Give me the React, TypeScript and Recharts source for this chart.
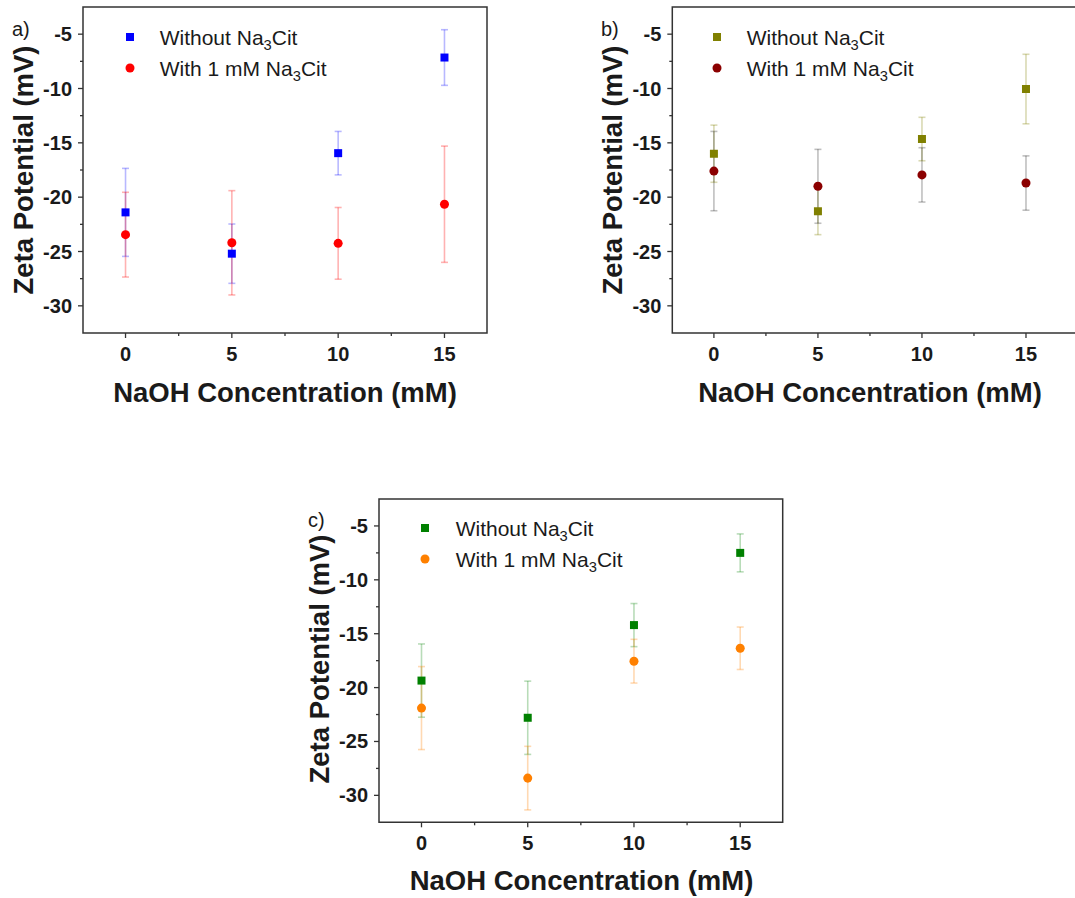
import React from 'react';
import { ScatterChart, Scatter, XAxis, YAxis, ZAxis, ErrorBar, ReferenceArea, Legend } from 'recharts';

// ---------- data ----------
const naohConcentration = [0, 5, 10, 15];
const xMajorTicks = [0, 5, 10, 15];
const xMinorTicks = [2.5, 7.5, 12.5];
const yMajorTicks = [-30, -25, -20, -15, -10, -5];
const yMinorTicks = [-27.5, -22.5, -17.5, -12.5, -7.5];

const aWithoutZeta = [-21.4, -25.2, -15.95, -7.15];
const aWithoutErr = [4.05, 2.73, 2.0, 2.56];
const aWithZeta = [-23.45, -24.2, -24.25, -20.65];
const aWithErr = [3.9, 4.8, 3.3, 5.35];

const bWithoutZeta = [-16.0, -21.3, -14.65, -10.05];
const bWithoutErr = [2.63, 2.15, 2.0, 3.2];
const bWithZeta = [-17.6, -19.0, -17.95, -18.7];
const bWithErr = [3.65, 3.4, 2.5, 2.5];

const cWithoutZeta = [-19.35, -22.8, -14.2, -7.5];
const cWithoutErr = [3.4, 3.4, 2.0, 1.76];
const cWithZeta = [-21.9, -28.4, -17.55, -16.35];
const cWithErr = [3.85, 2.95, 2.03, 1.97];

const seriesPrefixes = ['Without', 'With 1 mM'];
const seriesNames = seriesPrefixes.map((p) => `${p} Na3Cit`);
const panelLetters = ['a)', 'b)', 'c)'];
const xTitle = 'NaOH Concentration (mM)';
const yTitle = 'Zeta Potential (mV)';

// ---------- styling ----------
const FONT = "'Liberation Sans', Arial, Helvetica, sans-serif";
const AXIS_COLOR = '#333';
const TEXT_COLOR = '#1a1a1a';
const yDomain = [-32.5, -2.5];

const build = (zeta: number[], err: number[]) =>
  naohConcentration.map((x, i) => ({ x, y: zeta[i], err: err[i] }));

const panels = [
  {
    left: 0, top: 0, width: 500, height: 420,
    margin: { top: 7, left: 23, right: 13, bottom: 57 },
    xDomain: [-2, 17],
    legend: { left: 124.7, top: 21.8, textLeft: 35 },
    series: [
      { data: build(aWithoutZeta, aWithoutErr), color: '#0000ff', errColor: '#0000ff', errOpacity: 0.28, shape: 'square' },
      { data: build(aWithZeta, aWithErr), color: '#ff0000', errColor: '#ff0000', errOpacity: 0.3, shape: 'circle' },
    ],
  },
  {
    left: 540, top: 0, width: 545, height: 420,
    margin: { top: 7, left: 72.3, right: 7, bottom: 57 },
    xDomain: [-2, 17.5],
    legend: { left: 172.3, top: 21.8, textLeft: 34.4 },
    series: [
      { data: build(bWithoutZeta, bWithoutErr), color: '#808000', errColor: '#808000', errOpacity: 0.3, shape: 'square' },
      { data: build(bWithZeta, bWithErr), color: '#8b0000', errColor: '#000000', errOpacity: 0.25, shape: 'circle' },
    ],
  },
  {
    left: 290, top: 480, width: 500, height: 420,
    margin: { top: 19, left: 29, right: 7.3, bottom: 47.7 },
    xDomain: [-2, 17],
    legend: { left: 130.3, top: 32.5, textLeft: 35.4 },
    series: [
      { data: build(cWithoutZeta, cWithoutErr), color: '#008000', errColor: '#008000', errOpacity: 0.28, shape: 'square' },
      { data: build(cWithZeta, cWithErr), color: '#ff8000', errColor: '#ff8000', errOpacity: 0.3, shape: 'circle' },
    ],
  },
];

// title placements (page coords)
const titlePlacements = [
  { letter: { x: 12, y: 36 }, yTitle: { x: 33, y: 170 }, xTitle: { x: 285, y: 402 } },
  { letter: { x: 601, y: 36 }, yTitle: { x: 622, y: 170 }, xTitle: { x: 870, y: 402 } },
  { letter: { x: 308, y: 527 }, yTitle: { x: 329, y: 659 }, xTitle: { x: 581.5, y: 890 } },
];

const YTick = (props: any) => {
  const { x, y, payload } = props;
  const major = yMajorTicks.includes(payload.value);
  const len = major ? 5 : 3;
  return (
    <g>
      <line x1={x - len} y1={y} x2={x} y2={y} stroke={AXIS_COLOR} strokeWidth={1.3} />
      {major && (
        <text x={x - 11} y={y + 7} textAnchor="end" fontFamily={FONT} fontWeight="bold" fontSize={20} fill={TEXT_COLOR}>
          {payload.value}
        </text>
      )}
    </g>
  );
};

const XTick = (props: any) => {
  const { x, y, payload } = props;
  const major = xMajorTicks.includes(payload.value);
  const len = major ? 5 : 3;
  return (
    <g>
      <line x1={x} y1={y} x2={x} y2={y + len} stroke={AXIS_COLOR} strokeWidth={1.3} />
      {major && (
        <text x={x} y={y + 28} textAnchor="middle" fontFamily={FONT} fontWeight="bold" fontSize={20} fill={TEXT_COLOR}>
          {payload.value}
        </text>
      )}
    </g>
  );
};

const makeLegend = (textLeft: number) => (props: any) => {
  const payload = [...(props.payload || [])].sort(
    (p: any, q: any) => seriesNames.indexOf(p.value) - seriesNames.indexOf(q.value)
  );
  return (
    <div style={{ fontFamily: FONT, fontSize: 21, color: TEXT_COLOR }}>
      {payload.map((entry: any) => {
        const idx = seriesNames.indexOf(entry.value);
        return (
          <div key={entry.value} style={{ position: 'relative', height: 31, width: 300, whiteSpace: 'nowrap' }}>
            <svg width={10} height={10} style={{ position: 'absolute', left: 0, top: 10.5 }}>
              {entry.type === 'square' ? (
                <rect x={1} y={1} width={8} height={8} fill={entry.color} />
              ) : (
                <circle cx={5} cy={5} r={4.5} fill={entry.color} />
              )}
            </svg>
            <span style={{ position: 'absolute', left: textLeft, top: 0, lineHeight: '31px' }}>
              {seriesPrefixes[idx]} Na
              <span style={{ fontSize: '0.7em', position: 'relative', top: '0.38em' }}>3</span>
              Cit
            </span>
          </div>
        );
      })}
    </div>
  );
};

const Panel = ({ cfg }: { cfg: any }) => (
  <div style={{ position: 'absolute', left: cfg.left, top: cfg.top }}>
    <ScatterChart width={cfg.width} height={cfg.height} margin={cfg.margin}>
      <ReferenceArea
        x1={cfg.xDomain[0]} x2={cfg.xDomain[1]} y1={yDomain[0]} y2={yDomain[1]}
        fill="none" stroke={AXIS_COLOR} strokeWidth={1.5} fillOpacity={0} ifOverflow="visible"
      />
      <XAxis
        type="number" dataKey="x" domain={cfg.xDomain} allowDataOverflow
        ticks={[...xMajorTicks, ...xMinorTicks].sort((p, q) => p - q)}
        interval={0} tickSize={0} tickMargin={0} tickLine={false} axisLine={false}
        tick={<XTick />} height={30}
      />
      <YAxis
        type="number" dataKey="y" domain={yDomain} allowDataOverflow
        ticks={[...yMajorTicks, ...yMinorTicks].sort((p, q) => p - q)}
        interval={0} tickSize={0} tickMargin={0} tickLine={false} axisLine={false}
        tick={<YTick />} width={60}
      />
      <ZAxis range={[64, 64]} />
      {cfg.series.map((s: any, i: number) => (
        <Scatter
          key={i}
          name={seriesNames[i]}
          data={s.data}
          fill={s.color}
          shape={s.shape}
          legendType={s.shape}
          isAnimationActive={false}
        >
          <ErrorBar
            dataKey="err" direction="y" width={3.5}
            stroke={s.errColor} strokeOpacity={s.errOpacity} strokeWidth={1.6}
            isAnimationActive={false}
          />
        </Scatter>
      ))}
      <Legend
        layout="vertical" align="center" verticalAlign="middle"
        wrapperStyle={{ left: cfg.legend.left, top: cfg.legend.top, width: 300, height: 62 }}
        content={makeLegend(cfg.legend.textLeft)}
      />
    </ScatterChart>
  </div>
);

export default function App() {
  return (
    <div style={{ position: 'absolute', left: 0, top: 0, width: 1075, height: 898, overflow: 'hidden', background: '#fff' }}>
      <style>{'body{margin:0;background:#fff;}'}</style>
      {panels.map((cfg, i) => (
        <Panel key={i} cfg={cfg} />
      ))}
      <svg width={1075} height={898} style={{ position: 'absolute', left: 0, top: 0, pointerEvents: 'none' }}>
        {titlePlacements.map((t, i) => (
          <g key={i} fontFamily={FONT} fill={TEXT_COLOR}>
            <text x={t.letter.x} y={t.letter.y} fontSize={20}>{panelLetters[i]}</text>
            <text
              x={t.yTitle.x} y={t.yTitle.y} fontSize={27.5} fontWeight="bold" textAnchor="middle"
              transform={`rotate(-90 ${t.yTitle.x} ${t.yTitle.y})`}
            >
              {yTitle}
            </text>
            <text x={t.xTitle.x} y={t.xTitle.y} fontSize={27.5} fontWeight="bold" textAnchor="middle">
              {xTitle}
            </text>
          </g>
        ))}
      </svg>
    </div>
  );
}
